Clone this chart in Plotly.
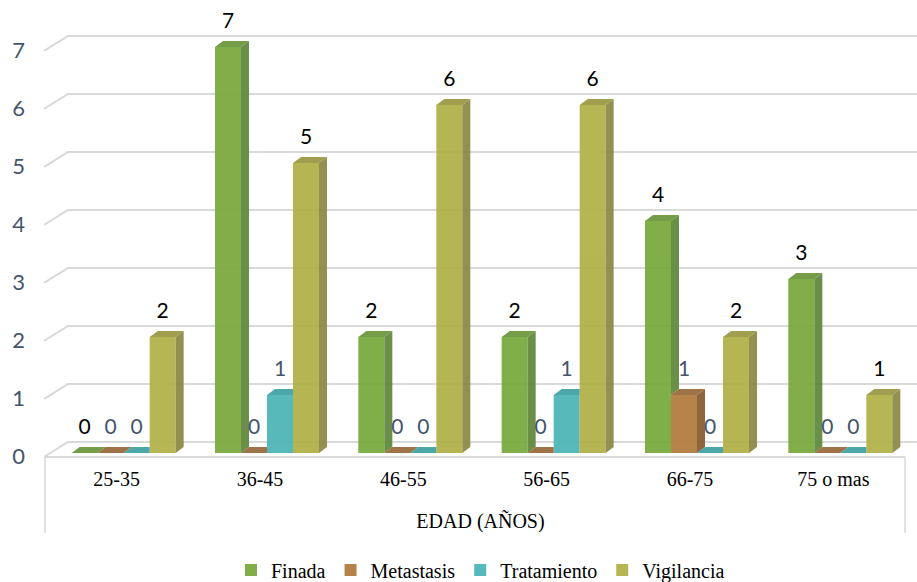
import plotly.graph_objects as go

# ---- data -----------------------------------------------------------------
categories = ["25-35", "36-45", "46-55", "56-65", "66-75", "75 o mas"]
series_names = ["Finada", "Metastasis", "Tratamiento", "Vigilancia"]
finada = [0, 7, 2, 2, 4, 3]
metastasis = [0, 0, 0, 0, 1, 0]
tratamiento = [0, 1, 0, 1, 0, 0]
vigilancia = [2, 5, 6, 6, 2, 1]
y_ticks = [0, 1, 2, 3, 4, 5, 6, 7]
x_title = "EDAD (AÑOS)"

series_values = [finada, metastasis, tratamiento, vigilancia]

# ---- styling --------------------------------------------------------------
front_colors = ["#77A83B", "#B07A3D", "#4BB4B6", "#B1B047"]
side_colors = ["#5F873A", "#86592F", "#378C8F", "#8A8945"]
top_colors = ["#6A963B", "#98683A", "#3F9FA1", "#999843"]
label_colors = ["#000000", "#44546A", "#44546A", "#000000"]
grid_color = "#D9D9D9"
sans = "Lato, 'Open Sans', sans-serif"
serif = "'Liberation Serif', 'Times New Roman', serif"

# ---- page geometry (pixels) -----------------------------------------------
W, H = 917, 582
PLOT_L, PLOT_B = 44, 460          # left edge / bottom edge of plotting area
CAT_L, CAT_R = 45, 905            # extent of the category band
PX_CAT = (CAT_R - CAT_L) / len(categories)
BASE_PX = 453                     # pixel row of value 0 on the bar fronts
PX_UNIT = 58.0                    # pixels per unit of value

x_lo = -0.5 - (CAT_L - PLOT_L) / PX_CAT
x_hi = x_lo + (W - PLOT_L) / PX_CAT
y_lo = -(PLOT_B - BASE_PX) / PX_UNIT
y_hi = y_lo + PLOT_B / PX_UNIT


def dxu(px):
    return px / PX_CAT


def dyu(px):
    return px / PX_UNIT


def paper_y(px):
    return (PLOT_B - px) / PLOT_B


BAR_W = dxu(26)
GROUP_START = dxu(-45)
DX, DY = dxu(8), dyu(6)           # depth of each bar
LABEL_LIFT = dyu(24)
WALL_DX, FRONT_DY, BACK_DY = dxu(24), dyu(-4), dyu(11)

fig = go.Figure()

# front faces of the bars
for k, (name, vals) in enumerate(zip(series_names, series_values)):
    fig.add_trace(go.Bar(
        x=list(range(len(categories))), y=vals, name=name,
        width=BAR_W, offset=GROUP_START + k * BAR_W,
        marker=dict(color=front_colors[k], line=dict(width=0)),
        opacity=0.93, hoverinfo="name+y",
    ))

# side and top faces, trimmed where the neighbouring bar hides them
n_series = len(series_values)
for k, vals in enumerate(series_values):
    side_x, side_y, top_x, top_y = [], [], [], []
    for i, v in enumerate(vals):
        xl = i + GROUP_START + k * BAR_W
        xr = xl + BAR_W
        nxt = series_values[k + 1][i] if k + 1 < n_series else None
        # side face
        if nxt is None:
            side_x += [xr, xr + DX, xr + DX, xr, xr, None]
            side_y += [0, DY, v + DY, v, 0, None]
        elif v > nxt:
            side_x += [xr, xr + DX, xr + DX, xr, xr, None]
            side_y += [nxt, nxt + DY, v + DY, v, nxt, None]
        # top face
        if nxt is not None and nxt > v:
            top_x += [xl, xl + DX, xr, xr, xl, None]
            top_y += [v, v + DY, v + DY, v, v, None]
        else:
            top_x += [xl, xl + DX, xr + DX, xr, xl, None]
            top_y += [v, v + DY, v + DY, v, v, None]
    if side_x:
        fig.add_trace(go.Scatter(
            x=side_x, y=side_y, mode="lines", fill="toself",
            fillcolor=side_colors[k], line=dict(width=0, color=side_colors[k]),
            opacity=0.93, showlegend=False, hoverinfo="skip"))
    fig.add_trace(go.Scatter(
        x=top_x, y=top_y, mode="lines", fill="toself",
        fillcolor=top_colors[k], line=dict(width=0, color=top_colors[k]),
        opacity=0.93, showlegend=False, hoverinfo="skip"))

# value labels
for k, vals in enumerate(series_values):
    centers = [i + GROUP_START + (k + 0.5) * BAR_W for i in range(len(vals))]
    fig.add_trace(go.Scatter(
        x=centers, y=[v + LABEL_LIFT for v in vals], mode="text",
        text=[str(v) for v in vals], textposition="middle center",
        textfont=dict(family=sans, size=21, color=label_colors[k]),
        showlegend=False, hoverinfo="skip"))

# back-wall gridlines with their short diagonal on the side wall
shapes = []
for t in y_ticks:
    shapes.append(dict(
        type="path", xref="x", yref="y", layer="below",
        path=(f"M {x_lo},{t + FRONT_DY} L {x_lo + WALL_DX},{t + BACK_DY} "
              f"L {x_hi},{t + BACK_DY}"),
        line=dict(color=grid_color, width=2)))
# front edge of the floor
shapes.append(dict(type="line", xref="x", yref="y", layer="below",
                   x0=x_lo, x1=len(categories) - 0.5, y0=FRONT_DY, y1=FRONT_DY,
                   line=dict(color=grid_color, width=2)))
# side borders of the category band
for xb in (-0.5, len(categories) - 0.5):
    shapes.append(dict(type="line", xref="x", yref="paper",
                       x0=xb, x1=xb, y0=paper_y(457), y1=paper_y(533),
                       line=dict(color=grid_color, width=1.5)))

fig.update_layout(
    width=W, height=H,
    margin=dict(l=PLOT_L, r=0, t=0, b=H - PLOT_B, pad=0, autoexpand=False),
    paper_bgcolor="white", plot_bgcolor="white",
    barmode="overlay",
    shapes=shapes,
    showlegend=True,
    legend=dict(orientation="h", x=0.5, xanchor="center",
                y=paper_y(570), yanchor="middle",
                font=dict(family=serif, size=20, color="#000000"),
                itemwidth=30, traceorder="normal"),
    xaxis=dict(range=[x_lo, x_hi], tickmode="array",
               tickvals=list(range(len(categories))), ticktext=categories,
               tickfont=dict(family=serif, size=20, color="#000000"),
               showgrid=False, zeroline=False, showline=False, ticks="",
               ticklabelstandoff=5, fixedrange=True, automargin=False,
               title=dict(text=x_title, standoff=24,
                          font=dict(family=serif, size=20, color="#000000"))),
    yaxis=dict(range=[y_lo, y_hi], tickmode="array", tickvals=y_ticks,
               tickfont=dict(family=sans, size=22, color="#44546A"),
               showgrid=False, zeroline=False, showline=False, ticks="",
               ticklabelshift=3, ticklabelstandoff=18, fixedrange=True,
               automargin=False),
    font=dict(family=sans),
)

fig.write_html("out.html")
